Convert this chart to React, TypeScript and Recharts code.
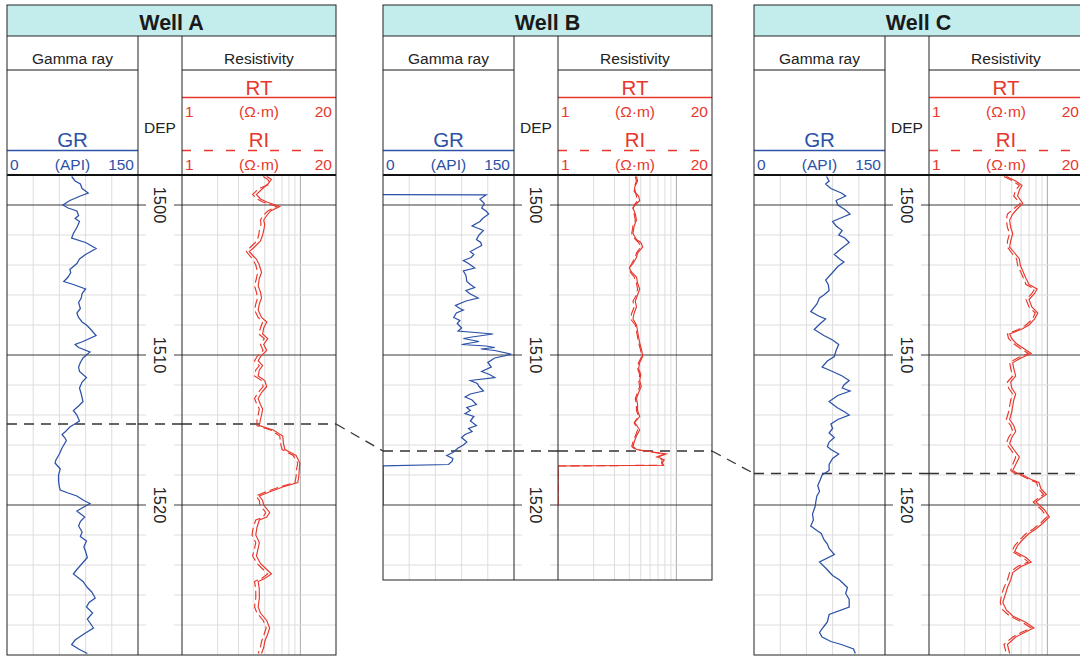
import { LineChart, Line, XAxis, YAxis, ReferenceLine } from "recharts";

// ────────────────────────────────────────────────────────────────────────────────
// Data
// ────────────────────────────────────────────────────────────────────────────────

const DEPTH_TOP = 1498;
const WELL_NAMES = ["Well A", "Well B", "Well C"];
const WELL_BOTTOMS = [1530, 1525, 1530];
const MARKER_DEPTHS = [1514.6, 1516.4, 1517.9];
const MAJOR_DEPTHS = [1500, 1510, 1520, 1530];
const MINOR_DEPTHS = [1502, 1504, 1506, 1508, 1512, 1514, 1516, 1518, 1522, 1524, 1526, 1528];
const DEPTH_LABELS = [1500, 1510, 1520];
const GR_GRID = [30, 60, 90, 120];
const RES_GRID_MINOR = [2, 3, 4, 5, 6, 7, 8, 9];
const RES_GRID_MAJOR = [10];
const GR_SCALE = ["0", "(API)", "150"];
const RES_SCALE = ["1", "(\u03A9\u00B7m)", "20"];

// [depth, GR]
const GR_A: [number, number][] = [
    [1498.1, 74], [1498.4, 78], [1498.6, 84], [1498.9, 86], [1499.2, 93], [1499.4, 84], [1499.7, 72],
    [1500.0, 64], [1500.2, 70], [1500.4, 80], [1500.7, 82], [1500.9, 78], [1501.1, 83], [1501.5, 80],
    [1501.9, 76], [1502.2, 74], [1502.5, 90], [1502.9, 102], [1503.1, 96], [1503.3, 90], [1503.6, 83],
    [1503.9, 80], [1504.3, 72], [1504.5, 73], [1504.8, 70], [1505.1, 65], [1505.3, 76], [1505.6, 90],
    [1505.9, 86], [1506.2, 85], [1506.5, 82], [1506.9, 84], [1507.2, 80], [1507.5, 82], [1507.8, 86],
    [1508.0, 91], [1508.3, 96], [1508.7, 102], [1509.1, 87], [1509.3, 78], [1509.5, 82], [1509.8, 95],
    [1510.2, 87], [1510.5, 84], [1510.8, 82], [1511.1, 83], [1511.5, 91], [1511.8, 86], [1512.2, 83],
    [1512.6, 85], [1513.1, 87], [1513.4, 82], [1513.7, 76], [1514.0, 80], [1514.4, 83], [1514.8, 72],
    [1515.1, 67], [1515.3, 63], [1515.5, 66], [1515.7, 68], [1516.2, 63], [1516.6, 60], [1517.0, 56],
    [1517.2, 55], [1517.6, 61], [1518.0, 59], [1518.4, 59], [1518.8, 60], [1519.0, 61], [1519.2, 70],
    [1519.4, 80], [1519.7, 88], [1519.9, 95], [1520.2, 86], [1520.4, 80], [1520.8, 89], [1521.1, 84],
    [1521.4, 82], [1521.8, 86], [1522.1, 84], [1522.4, 91], [1522.8, 88], [1523.1, 90], [1523.5, 92],
    [1523.9, 86], [1524.3, 80], [1524.6, 76], [1525.1, 87], [1525.5, 92], [1525.8, 97], [1526.2, 101],
    [1526.5, 94], [1526.8, 91], [1527.2, 98], [1527.6, 92], [1528.2, 99], [1528.6, 88], [1529.0, 78],
    [1529.3, 74], [1529.6, 82], [1529.9, 92],
];

const GR_B: [number, number][] = [
    [1499.3, 0], [1499.33, 118], [1499.6, 111], [1499.9, 116], [1500.2, 113], [1500.4, 118], [1500.6, 121],
    [1500.9, 114], [1501.1, 111], [1501.4, 102], [1501.7, 115], [1502.0, 110], [1502.3, 107], [1502.5, 112],
    [1502.7, 113], [1503.1, 100], [1503.3, 104], [1503.5, 101], [1503.7, 92], [1503.9, 98], [1504.2, 105],
    [1504.4, 92], [1504.7, 95], [1505.1, 96], [1505.3, 100], [1505.5, 105], [1505.7, 95], [1505.9, 99],
    [1506.2, 109], [1506.4, 95], [1506.7, 83], [1506.9, 88], [1507.0, 92], [1507.2, 84], [1507.5, 81],
    [1507.7, 88], [1507.9, 85], [1508.2, 90], [1508.4, 86], [1508.6, 126], [1508.8, 102], [1508.9, 92],
    [1509.1, 110], [1509.3, 90], [1509.4, 118], [1509.5, 128], [1509.6, 112], [1509.7, 128], [1509.95, 147],
    [1510.2, 128], [1510.5, 120], [1510.8, 124], [1511.1, 113], [1511.3, 122], [1511.5, 128], [1511.7, 100],
    [1511.9, 108], [1512.1, 110], [1512.4, 115], [1512.6, 100], [1512.8, 94], [1513.0, 102], [1513.3, 107],
    [1513.5, 96], [1513.7, 100], [1513.9, 94], [1514.1, 104], [1514.4, 100], [1514.7, 107], [1514.9, 98],
    [1515.1, 102], [1515.3, 94], [1515.5, 90], [1515.8, 96], [1516.0, 92], [1516.2, 86], [1516.5, 80],
    [1516.7, 73], [1516.9, 80], [1517.1, 79], [1517.3, 75], [1517.4, 0], [1520.0, 0],
];

const GR_C: [number, number][] = [
    [1498.1, 83], [1498.4, 86], [1498.6, 82], [1498.9, 88], [1499.2, 100], [1499.4, 105], [1499.7, 94],
    [1500.0, 96], [1500.3, 104], [1500.6, 110], [1500.9, 98], [1501.1, 90], [1501.4, 94], [1501.7, 101],
    [1502.0, 97], [1502.2, 104], [1502.5, 109], [1502.9, 100], [1503.3, 92], [1503.6, 98], [1503.8, 103],
    [1504.1, 96], [1504.5, 90], [1505.0, 82], [1505.3, 85], [1505.7, 86], [1506.0, 80], [1506.2, 75],
    [1506.6, 72], [1507.1, 65], [1507.4, 74], [1507.6, 82], [1507.9, 76], [1508.3, 69], [1508.7, 80],
    [1509.0, 90], [1509.3, 97], [1509.7, 94], [1510.1, 92], [1510.4, 84], [1510.8, 78], [1511.1, 90],
    [1511.4, 101], [1511.7, 109], [1512.0, 103], [1512.2, 101], [1512.4, 110], [1512.7, 96], [1513.1, 86],
    [1513.5, 95], [1513.8, 104], [1514.0, 109], [1514.3, 96], [1514.6, 88], [1514.9, 90], [1515.2, 86],
    [1515.5, 92], [1515.8, 86], [1516.1, 84], [1516.3, 88], [1516.6, 97], [1516.9, 90], [1517.3, 86],
    [1517.7, 86], [1518.0, 78], [1518.3, 76], [1518.7, 73], [1519.1, 75], [1519.4, 72], [1519.7, 71],
    [1520.1, 70], [1520.6, 67], [1521.0, 68], [1521.4, 65], [1521.7, 72], [1521.9, 77], [1522.3, 80],
    [1522.6, 84], [1522.9, 86], [1523.3, 92], [1523.8, 75], [1524.2, 82], [1524.7, 90], [1525.0, 98],
    [1525.5, 107], [1525.9, 105], [1526.3, 109], [1526.8, 109], [1527.3, 86], [1527.8, 84], [1528.1, 80],
    [1528.5, 75], [1528.8, 78], [1529.1, 88], [1529.3, 100], [1529.6, 114], [1529.9, 116],
];

// [depth, RT, RI]  (ohm·m)
const RES_A: [number, number, number][] = [
    [1498.1, 5.2, 4.85], [1498.3, 5.7, 5.3], [1498.6, 5.3, 5.6], [1498.9, 4.8, 4.45], [1499.3, 4.25, 3.95],
    [1499.6, 4.6, 4.3], [1499.8, 5.2, 4.8], [1500.1, 6.7, 6.3], [1500.4, 5.6, 5.3], [1500.7, 5.2, 4.85],
    [1501.0, 4.9, 4.6], [1501.3, 5.0, 4.65], [1501.7, 4.9, 4.5], [1502.0, 4.8, 4.45], [1502.4, 4.6, 4.3],
    [1502.8, 4.1, 3.8], [1503.1, 3.7, 3.5], [1503.4, 4.0, 3.75], [1503.6, 4.25, 3.95], [1504.0, 4.5, 4.2],
    [1504.5, 4.7, 4.35], [1504.9, 4.5, 4.25], [1505.4, 4.4, 4.1], [1505.8, 4.6, 4.25], [1506.2, 4.7, 4.35],
    [1506.6, 4.5, 4.2], [1507.0, 4.4, 4.1], [1507.5, 4.7, 4.4], [1507.8, 5.2, 4.8], [1508.2, 4.9, 4.6],
    [1508.6, 4.8, 4.45], [1508.9, 5.3, 4.95], [1509.3, 4.9, 4.6], [1509.7, 5.2, 4.85], [1510.1, 4.6, 4.3],
    [1510.4, 4.4, 4.1], [1510.7, 4.8, 4.5], [1511.0, 4.5, 4.2], [1511.4, 4.4, 4.1], [1511.7, 5.0, 4.7],
    [1512.1, 5.2, 4.85], [1512.5, 4.7, 4.4], [1512.9, 4.4, 4.1], [1513.3, 4.6, 4.3], [1513.6, 4.8, 4.5],
    [1514.0, 4.7, 4.4], [1514.3, 4.6, 4.3], [1514.7, 4.5, 4.3], [1515.0, 5.9, 5.6], [1515.4, 7.1, 6.7],
    [1515.9, 7.2, 6.8], [1516.3, 7.4, 7.0], [1516.7, 9.2, 8.7], [1517.2, 9.9, 9.5], [1517.6, 9.8, 9.3],
    [1518.1, 9.7, 9.2], [1518.5, 9.5, 9.0], [1518.8, 7.1, 6.7], [1519.1, 5.6, 5.2], [1519.4, 4.5, 4.2],
    [1519.7, 4.8, 4.5], [1520.0, 4.9, 4.55], [1520.5, 5.5, 5.1], [1520.8, 5.2, 4.85], [1521.0, 4.5, 4.2],
    [1521.5, 4.3, 4.0], [1522.0, 4.2, 3.9], [1522.5, 4.5, 4.2], [1522.9, 4.4, 4.1], [1523.4, 4.25, 3.95],
    [1523.9, 4.6, 4.3], [1524.3, 5.2, 4.85], [1524.6, 5.7, 5.3], [1524.9, 5.0, 4.7], [1525.1, 4.4, 4.1],
    [1525.6, 4.5, 4.2], [1526.2, 4.5, 4.2], [1526.8, 4.4, 4.1], [1527.2, 4.6, 4.3], [1527.7, 5.2, 4.85],
    [1528.2, 5.5, 5.15], [1528.6, 5.3, 4.95], [1529.1, 5.0, 4.7], [1529.5, 4.9, 4.6], [1529.9, 4.7, 4.4],
];

const RES_B: [number, number, number][] = [
    [1498.1, 4.6, 4.5], [1498.4, 4.7, 4.6], [1498.8, 4.45, 4.4], [1499.1, 4.4, 4.5], [1499.4, 4.8, 4.6],
    [1499.7, 4.9, 4.7], [1500.0, 4.5, 4.4], [1500.2, 4.3, 4.3], [1500.6, 4.5, 4.4], [1501.0, 4.6, 4.5],
    [1501.4, 4.4, 4.3], [1501.9, 4.3, 4.2], [1502.3, 4.6, 4.5], [1502.5, 5.0, 4.8], [1502.8, 5.2, 5.0],
    [1503.2, 4.7, 4.6], [1503.5, 4.6, 4.5], [1503.9, 4.3, 4.2], [1504.2, 4.0, 4.0], [1504.5, 4.2, 4.1],
    [1504.8, 4.6, 4.4], [1505.2, 4.7, 4.6], [1505.6, 4.9, 4.7], [1506.0, 4.7, 4.6], [1506.4, 4.5, 4.3],
    [1506.8, 4.6, 4.4], [1507.2, 4.4, 4.2], [1507.6, 4.3, 4.1], [1508.0, 4.6, 4.5], [1508.4, 4.7, 4.6],
    [1508.8, 4.8, 4.7], [1509.2, 4.9, 4.8], [1509.7, 5.1, 5.0], [1510.1, 5.2, 5.1], [1510.5, 4.9, 4.8],
    [1510.9, 4.8, 4.7], [1511.3, 5.0, 4.9], [1511.7, 4.9, 4.8], [1512.1, 5.05, 4.9], [1512.5, 4.8, 4.7],
    [1512.9, 4.6, 4.5], [1513.3, 4.7, 4.6], [1513.7, 4.7, 4.6], [1514.1, 4.9, 4.8], [1514.5, 4.45, 4.4],
    [1515.0, 4.9, 4.7], [1515.4, 4.6, 4.5], [1515.8, 4.4, 4.3], [1516.1, 4.3, 4.2], [1516.3, 4.6, 4.5],
    [1516.4, 5.6, 5.4], [1516.5, 6.8, 6.5], [1516.6, 8.2, 7.9], [1516.8, 7.0, 6.8], [1517.0, 7.9, 7.6],
    [1517.2, 7.6, 7.5], [1517.35, 7.8, 7.7], [1517.4, 1, 1], [1520.0, 1, 1],
];

const RES_C: [number, number, number][] = [
    [1498.1, 4.5, 4.3], [1498.4, 5.4, 5.1], [1498.7, 6.1, 5.8], [1499.0, 5.8, 5.4], [1499.4, 5.6, 5.2],
    [1499.9, 6.2, 5.9], [1500.3, 5.5, 5.1], [1500.6, 5.1, 4.6], [1501.0, 4.8, 4.5], [1501.5, 4.9, 4.6],
    [1501.9, 5.1, 4.8], [1502.4, 4.9, 4.6], [1502.8, 4.8, 4.6], [1503.2, 5.3, 5.0], [1503.6, 5.8, 5.5],
    [1504.0, 5.9, 5.6], [1504.4, 6.2, 5.9], [1504.9, 6.6, 6.3], [1505.3, 7.0, 6.6], [1505.6, 8.2, 7.8],
    [1505.9, 7.8, 7.4], [1506.3, 7.0, 6.6], [1506.8, 7.4, 7.0], [1507.2, 8.3, 7.9], [1507.6, 7.8, 7.5],
    [1508.0, 7.0, 6.6], [1508.3, 6.0, 5.7], [1508.6, 4.8, 4.6], [1508.9, 5.0, 4.7], [1509.2, 5.4, 5.1],
    [1509.6, 6.4, 6.0], [1509.9, 7.3, 6.9], [1510.2, 6.0, 5.6], [1510.5, 5.1, 4.8], [1510.9, 5.2, 4.9],
    [1511.4, 5.4, 5.1], [1511.8, 4.9, 4.6], [1512.2, 5.0, 4.7], [1512.6, 5.4, 5.1], [1513.0, 5.2, 4.9],
    [1513.4, 5.1, 4.8], [1513.8, 5.0, 4.7], [1514.3, 4.8, 4.5], [1514.7, 5.2, 4.9], [1515.1, 5.4, 5.1],
    [1515.5, 5.0, 4.7], [1515.9, 4.8, 4.5], [1516.3, 5.2, 4.9], [1516.8, 5.8, 5.4], [1517.3, 5.4, 5.1],
    [1517.7, 5.1, 4.9], [1517.9, 5.6, 5.3], [1518.0, 6.2, 5.9], [1518.3, 7.3, 7.0], [1518.5, 8.5, 8.1],
    [1518.9, 8.8, 8.4], [1519.3, 9.8, 9.3], [1519.6, 8.6, 8.2], [1519.8, 8.0, 7.6], [1520.3, 9.4, 8.9],
    [1520.8, 10.4, 9.9], [1521.2, 9.2, 8.8], [1521.6, 8.0, 7.6], [1521.9, 7.0, 6.6], [1522.3, 6.2, 5.9],
    [1522.7, 5.6, 5.3], [1523.1, 5.3, 5.0], [1523.5, 6.6, 6.2], [1523.8, 7.3, 6.9], [1524.1, 6.0, 5.6],
    [1524.5, 5.1, 4.8], [1525.0, 4.9, 4.6], [1525.5, 4.6, 4.3], [1526.0, 4.4, 4.1], [1526.5, 4.2, 4.0],
    [1527.0, 4.5, 4.2], [1527.4, 5.1, 4.8], [1527.8, 6.5, 6.1], [1528.2, 7.7, 7.3], [1528.5, 6.4, 6.0],
    [1528.8, 5.4, 5.1], [1529.3, 4.6, 4.3], [1529.9, 4.8, 4.5],
];

const GR_LOGS = [GR_A, GR_B, GR_C];
const RES_LOGS = [RES_A, RES_B, RES_C];

// ────────────────────────────────────────────────────────────────────────────────
// Layout & style
// ────────────────────────────────────────────────────────────────────────────────

const WELL_X = [7, 383, 754];
const GR_W = 131;
const DEP_W = 44;
const RES_W = 154;
const WELL_W = GR_W + DEP_W + RES_W;
const BOX_TOP = 5;
const TITLE_BOTTOM = 36;
const SUB_BOTTOM = 70;
const DATA_TOP = 175;
const PX_PER_M = 15;

const BLUE = "#2c51a6";
const RED = "#e8372c";
const INK = "#222";
const FONT = "'Liberation Sans', Arial, Helvetica, sans-serif";
const SMALL = 15.5;
const MARGIN = { top: 0, right: 0, bottom: 0, left: 0 };

const depthToY = (d: number) => DATA_TOP + (d - DEPTH_TOP) * PX_PER_M;

// ────────────────────────────────────────────────────────────────────────────────
// Helpers
// ────────────────────────────────────────────────────────────────────────────────

function depthGrid(bottom: number) {
    return [
        ...MINOR_DEPTHS.filter((d) => d < bottom).map((d) => (
            <ReferenceLine key={"mn" + d} y={d} stroke="#dddddd" strokeWidth={1} />
        )),
        ...MAJOR_DEPTHS.filter((d) => d < bottom).map((d) => (
            <ReferenceLine key={"mj" + d} y={d} stroke="#3a3a3a" strokeWidth={1} />
        )),
    ];
}

function markerLine(depth: number) {
    return (
        <ReferenceLine
            key="marker"
            y={depth}
            stroke="#333"
            strokeWidth={1.3}
            strokeDasharray="10 7"
        />
    );
}

function DepthTick(props: any) {
    const { y, payload } = props;
    const cx = DEP_W / 2;
    return (
        <text
            x={cx}
            y={y}
            transform={`rotate(90 ${cx} ${y})`}
            textAnchor="middle"
            dominantBaseline="central"
            fontSize={16.5}
            fontFamily={FONT}
            fill={INK}
        >
            {payload.value}
        </text>
    );
}

// ────────────────────────────────────────────────────────────────────────────────
// Tracks
// ────────────────────────────────────────────────────────────────────────────────

function GrTrack({ log, bottom, marker }: { log: [number, number][]; bottom: number; marker: number }) {
    const rows = log.map(([depth, gr]) => ({ depth, gr }));
    return (
        <LineChart layout="vertical" width={GR_W} height={(bottom - DEPTH_TOP) * PX_PER_M} data={rows} margin={MARGIN}>
            <XAxis type="number" domain={[0, 150]} allowDataOverflow hide />
            <YAxis type="number" dataKey="depth" domain={[DEPTH_TOP, bottom]} allowDataOverflow hide />
            {GR_GRID.map((v) => (
                <ReferenceLine key={"g" + v} x={v} stroke="#dddddd" />
            ))}
            {depthGrid(bottom)}
            {markerLine(marker)}
            <Line
                type="linear"
                dataKey="gr"
                stroke={BLUE}
                strokeWidth={1.25}
                dot={false}
                isAnimationActive={false}
            />
        </LineChart>
    );
}

function DepthTrack({ bottom, marker }: { bottom: number; marker: number }) {
    const rows = DEPTH_LABELS.map((depth) => ({ depth }));
    const stubs = [...MINOR_DEPTHS, ...MAJOR_DEPTHS].filter((d) => d < bottom);
    return (
        <LineChart layout="vertical" width={DEP_W} height={(bottom - DEPTH_TOP) * PX_PER_M} data={rows} margin={MARGIN}>
            <XAxis type="number" domain={[0, DEP_W]} allowDataOverflow hide />
            <YAxis
                type="number"
                dataKey="depth"
                domain={[DEPTH_TOP, bottom]}
                allowDataOverflow
                ticks={DEPTH_LABELS}
                interval={0}
                mirror
                axisLine={false}
                tickLine={false}
                tick={DepthTick}
            />
            {stubs.map((d) => {
                const c = MAJOR_DEPTHS.includes(d) ? "#3a3a3a" : "#dddddd";
                return [
                    <ReferenceLine key={"l" + d} segment={[{ x: 0, y: d }, { x: 8, y: d }]} stroke={c} />,
                    <ReferenceLine key={"r" + d} segment={[{ x: DEP_W - 8, y: d }, { x: DEP_W, y: d }]} stroke={c} />,
                ];
            })}
            {markerLine(marker)}
        </LineChart>
    );
}

function ResTrack({ log, bottom, marker }: { log: [number, number, number][]; bottom: number; marker: number }) {
    const rows = log.map(([depth, rt, ri]) => ({ depth, rt, ri }));
    return (
        <LineChart layout="vertical" width={RES_W} height={(bottom - DEPTH_TOP) * PX_PER_M} data={rows} margin={MARGIN}>
            <XAxis type="number" scale="log" domain={[1, 20]} allowDataOverflow hide />
            <YAxis type="number" dataKey="depth" domain={[DEPTH_TOP, bottom]} allowDataOverflow hide />
            {RES_GRID_MINOR.map((v) => (
                <ReferenceLine key={"r" + v} x={v} stroke="#dddddd" />
            ))}
            {RES_GRID_MAJOR.map((v) => (
                <ReferenceLine key={"R" + v} x={v} stroke="#aaaaaa" />
            ))}
            {depthGrid(bottom)}
            {markerLine(marker)}
            <Line
                type="linear"
                dataKey="ri"
                stroke={RED}
                strokeWidth={1.15}
                strokeDasharray="9 4"
                dot={false}
                isAnimationActive={false}
            />
            <Line
                type="linear"
                dataKey="rt"
                stroke={RED}
                strokeWidth={1.15}
                dot={false}
                isAnimationActive={false}
            />
        </LineChart>
    );
}

// ────────────────────────────────────────────────────────────────────────────────
// Header / frame overlay
// ────────────────────────────────────────────────────────────────────────────────

function WellFrame({ x0, name, bottom }: { x0: number; name: string; bottom: number }) {
    const yBottom = depthToY(bottom);
    const grX = x0;
    const depX = x0 + GR_W;
    const resX = x0 + GR_W + DEP_W;
    const resR = x0 + WELL_W;
    const txt = { fontFamily: FONT };
    return (
        <g>
            <rect x={x0} y={BOX_TOP} width={WELL_W} height={TITLE_BOTTOM - BOX_TOP} fill="#c3eded" />
            <text x={x0 + WELL_W / 2} y={30} fontSize={21.5} fontWeight="bold" textAnchor="middle" fill="#1a1a1a" {...txt}>
                {name}
            </text>
            <line x1={x0} x2={resR} y1={TITLE_BOTTOM} y2={TITLE_BOTTOM} stroke={INK} />

            {/* sub headers */}
            <line x1={grX} x2={depX} y1={SUB_BOTTOM} y2={SUB_BOTTOM} stroke="#666" strokeWidth={1.3} />
            <line x1={resX} x2={resR} y1={SUB_BOTTOM} y2={SUB_BOTTOM} stroke="#666" strokeWidth={1.3} />
            <text x={grX + GR_W / 2} y={64} fontSize={SMALL} textAnchor="middle" fill={INK} {...txt}>
                Gamma ray
            </text>
            <text x={resX + RES_W / 2} y={64} fontSize={SMALL} textAnchor="middle" fill={INK} {...txt}>
                Resistivity
            </text>
            <text x={depX + DEP_W / 2} y={133} fontSize={SMALL} textAnchor="middle" fill={INK} {...txt}>
                DEP
            </text>

            {/* GR curve header */}
            <text x={grX + GR_W / 2} y={147} fontSize={20.5} textAnchor="middle" fill={BLUE} {...txt}>
                GR
            </text>
            <line x1={grX} x2={depX} y1={150.5} y2={150.5} stroke={BLUE} strokeWidth={1.3} />
            <text x={grX + 3} y={170} fontSize={SMALL} fill={BLUE} {...txt}>{GR_SCALE[0]}</text>
            <text x={grX + GR_W / 2} y={170} fontSize={SMALL} textAnchor="middle" fill={BLUE} {...txt}>{GR_SCALE[1]}</text>
            <text x={depX - 4} y={170} fontSize={SMALL} textAnchor="end" fill={BLUE} {...txt}>{GR_SCALE[2]}</text>

            {/* RT curve header */}
            <text x={resX + RES_W / 2} y={95} fontSize={20.5} textAnchor="middle" fill={RED} {...txt}>
                RT
            </text>
            <line x1={resX} x2={resR} y1={97.5} y2={97.5} stroke={RED} strokeWidth={1.3} />
            <text x={resX + 3} y={117} fontSize={SMALL} fill={RED} {...txt}>{RES_SCALE[0]}</text>
            <text x={resX + RES_W / 2} y={117} fontSize={SMALL} textAnchor="middle" fill={RED} {...txt}>{RES_SCALE[1]}</text>
            <text x={resR - 4} y={117} fontSize={SMALL} textAnchor="end" fill={RED} {...txt}>{RES_SCALE[2]}</text>

            {/* RI curve header */}
            <text x={resX + RES_W / 2} y={147} fontSize={20.5} textAnchor="middle" fill={RED} {...txt}>
                RI
            </text>
            <line x1={resX} x2={resR} y1={150.5} y2={150.5} stroke={RED} strokeWidth={1.3} strokeDasharray="9 13" />
            <text x={resX + 3} y={170} fontSize={SMALL} fill={RED} {...txt}>{RES_SCALE[0]}</text>
            <text x={resX + RES_W / 2} y={170} fontSize={SMALL} textAnchor="middle" fill={RED} {...txt}>{RES_SCALE[1]}</text>
            <text x={resR - 4} y={170} fontSize={SMALL} textAnchor="end" fill={RED} {...txt}>{RES_SCALE[2]}</text>

            {/* track separators & frame */}
            <line x1={depX} x2={depX} y1={TITLE_BOTTOM} y2={yBottom} stroke={INK} />
            <line x1={resX} x2={resX} y1={TITLE_BOTTOM} y2={yBottom} stroke={INK} />
            <line x1={x0} x2={resR} y1={DATA_TOP} y2={DATA_TOP} stroke="#111" strokeWidth={2} />
            <rect x={x0} y={BOX_TOP} width={WELL_W} height={yBottom - BOX_TOP} fill="none" stroke={INK} />
        </g>
    );
}

// ────────────────────────────────────────────────────────────────────────────────
// App
// ────────────────────────────────────────────────────────────────────────────────

export default function App() {
    const yA = depthToY(MARKER_DEPTHS[0]);
    const yB = depthToY(MARKER_DEPTHS[1]);
    const yC = depthToY(MARKER_DEPTHS[2]);
    return (
        <div
            style={{
                position: "absolute",
                left: 0,
                top: 0,
                width: 1080,
                height: 657,
                overflow: "hidden",
                background: "#fff",
            }}
        >
            {WELL_NAMES.map((name, i) => {
                const x0 = WELL_X[i];
                const bottom = WELL_BOTTOMS[i];
                return (
                    <div key={name}>
                        <div style={{ position: "absolute", left: x0, top: DATA_TOP }}>
                            <GrTrack log={GR_LOGS[i]} bottom={bottom} marker={MARKER_DEPTHS[i]} />
                        </div>
                        <div style={{ position: "absolute", left: x0 + GR_W, top: DATA_TOP }}>
                            <DepthTrack bottom={bottom} marker={MARKER_DEPTHS[i]} />
                        </div>
                        <div style={{ position: "absolute", left: x0 + GR_W + DEP_W, top: DATA_TOP }}>
                            <ResTrack log={RES_LOGS[i]} bottom={bottom} marker={MARKER_DEPTHS[i]} />
                        </div>
                    </div>
                );
            })}
            <svg
                width={1080}
                height={657}
                style={{ position: "absolute", left: 0, top: 0, pointerEvents: "none" }}
            >
                {WELL_NAMES.map((name, i) => (
                    <WellFrame key={name} x0={WELL_X[i]} name={name} bottom={WELL_BOTTOMS[i]} />
                ))}
                {/* correlation connectors */}
                <line x1={WELL_X[0] + WELL_W} y1={yA} x2={WELL_X[1]} y2={yB} stroke="#333" strokeWidth={1.3} strokeDasharray="10 7" />
                <line x1={WELL_X[1] + WELL_W} y1={yB} x2={WELL_X[2]} y2={yC} stroke="#333" strokeWidth={1.3} strokeDasharray="10 7" />
            </svg>
        </div>
    );
}
